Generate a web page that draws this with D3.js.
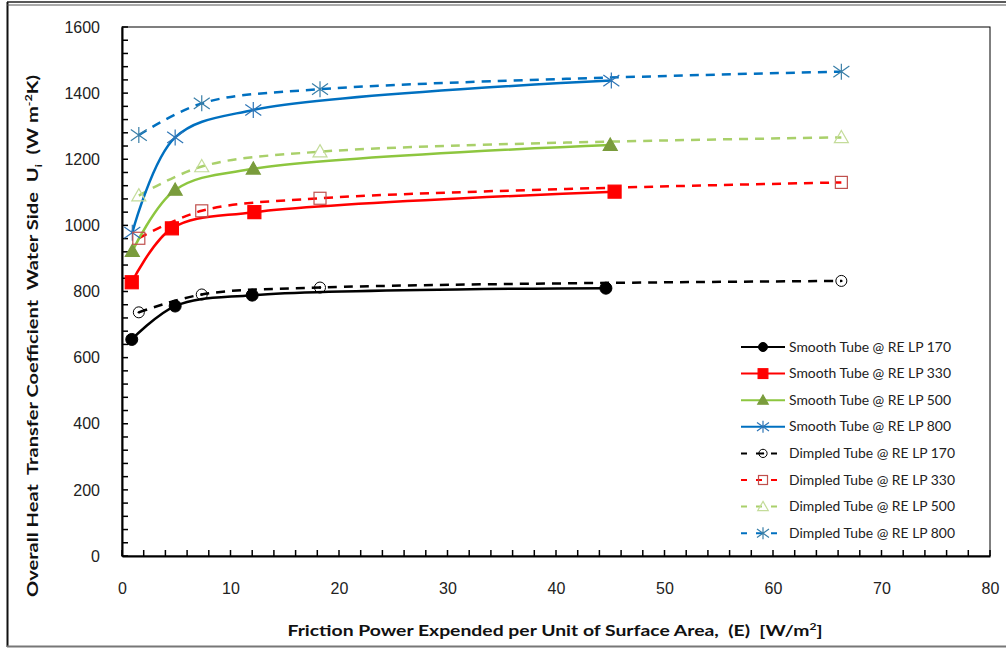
<!DOCTYPE html>
<html>
<head>
<meta charset="utf-8">
<script src="https://cdn.jsdelivr.net/npm/d3@7"></script>
<style>
  body { margin: 0; background: #fff; }
  svg { display: block; font-family: Lato, "Open Sans", sans-serif; }
  .tick text { fill: #222; }
</style>
</head>
<body>
<script>
// values
var xTicks = [0, 10, 20, 30, 40, 50, 60, 70, 80];
var yTicks = [0, 200, 400, 600, 800, 1000, 1200, 1400, 1600];

var smoothE170 = [0.9, 4.9, 12.0, 44.6];
var smoothU170 = [655, 756, 789, 810];
var smoothE330 = [0.9, 4.6, 12.2, 45.4];
var smoothU330 = [828, 991, 1040, 1102];
var smoothE500 = [0.95, 4.9, 12.1, 45.0];
var smoothU500 = [922, 1107, 1171, 1243];
var smoothE800 = [0.95, 4.9, 12.1, 45.1];
var smoothU800 = [978, 1266, 1349, 1438];

var dimpledE = [1.55, 7.35, 18.25, 66.3];
var dimpledU170 = [737, 791, 812, 832];
var dimpledU330 = [961, 1044, 1082, 1130];
var dimpledU500 = [1090, 1178, 1223, 1266];
var dimpledU800 = [1273, 1369, 1412, 1465];

var seriesNames = ["Smooth Tube @ RE LP 170", "Smooth Tube @ RE LP 330", "Smooth Tube @ RE LP 500", "Smooth Tube @ RE LP 800",
                   "Dimpled Tube @ RE LP 170", "Dimpled Tube @ RE LP 330", "Dimpled Tube @ RE LP 500", "Dimpled Tube @ RE LP 800"];

function zip(xs, ys) {
  return xs.map(function(x, i) { return {x: x, y: ys[i]}; });
}

// series table (styles kept here, values come from the arrays above)
var series = [
  {name: seriesNames[0], pts: zip(smoothE170, smoothU170), color: "#000000", mark: "circle", fill: "#000000", mcol: "#000000", dash: null},
  {name: seriesNames[1], pts: zip(smoothE330, smoothU330), color: "#ff0000", mark: "square", fill: "#ff0000", mcol: "#ff0000", dash: null},
  {name: seriesNames[2], pts: zip(smoothE500, smoothU500), color: "#8dc63f", mark: "triangle", fill: "#7a9c3c", mcol: "#7a9c3c", dash: null},
  {name: seriesNames[3], pts: zip(smoothE800, smoothU800), color: "#0070c0", mark: "star", fill: "none", mcol: "#2e75b6", dash: null},
  {name: seriesNames[4], pts: zip(dimpledE, dimpledU170), color: "#000000", mark: "circle", fill: "none", mcol: "#000000", dash: "9,7"},
  {name: seriesNames[5], pts: zip(dimpledE, dimpledU330), color: "#ff0000", mark: "square", fill: "none", mcol: "#c0504d", dash: "9,7"},
  {name: seriesNames[6], pts: zip(dimpledE, dimpledU500), color: "#a9d06a", mark: "triangle", fill: "none", mcol: "#c4dc9a", dash: "9,7"},
  {name: seriesNames[7], pts: zip(dimpledE, dimpledU800), color: "#0070c0", mark: "star", fill: "none", mcol: "#3a7fa8", dash: "9,7"}
];

var width = 1006, height = 649;
var margin = {top: 27, right: 16, bottom: 93, left: 122};

var svg = d3.select("body").append("svg")
    .attr("width", width)
    .attr("height", height);

// outer frame of the picture
svg.append("line").attr("x1", 7.5).attr("x2", 7.5).attr("y1", 2).attr("y2", 647)
    .attr("stroke", "#111").attr("stroke-width", 2);
svg.append("line").attr("x1", 7).attr("x2", width).attr("y1", 2).attr("y2", 2)
    .attr("stroke", "#222").attr("stroke-width", 1.5);
svg.append("line").attr("x1", 7).attr("x2", width).attr("y1", 5).attr("y2", 5)
    .attr("stroke", "#555").attr("stroke-width", 1);
svg.append("line").attr("x1", 7).attr("x2", width).attr("y1", 646.5).attr("y2", 646.5)
    .attr("stroke", "#777").attr("stroke-width", 2);

var x = d3.scaleLinear().domain([0, 80]).range([margin.left, width - margin.right]);
var y = d3.scaleLinear().domain([0, 1600]).range([height - margin.bottom, margin.top]);

// plot area box
svg.append("rect")
    .attr("x", x(0)).attr("y", y(1600))
    .attr("width", x(80) - x(0)).attr("height", y(0) - y(1600))
    .attr("fill", "none").attr("stroke", "#000").attr("stroke-width", 1);

// minor ticks (inward)
var yMinor = d3.range(0, 1601, 40);
var xMinor = d3.range(0, 80.1, 2);
svg.append("g").selectAll("line").data(yMinor).enter().append("line")
    .attr("x1", x(0)).attr("x2", x(0) + 6)
    .attr("y1", function(d) { return y(d); }).attr("y2", function(d) { return y(d); })
    .attr("stroke", "#000").attr("stroke-width", 1.5);
svg.append("g").selectAll("line").data(xMinor).enter().append("line")
    .attr("x1", function(d) { return x(d); }).attr("x2", function(d) { return x(d); })
    .attr("y1", y(0)).attr("y2", y(0) - 6)
    .attr("stroke", "#000").attr("stroke-width", 1.5);

// axes
var yAxis = svg.append("g")
    .attr("class", "yAxis")
    .attr("transform", "translate(" + x(0) + ",0)")
    .call(d3.axisLeft(y).tickValues(yTicks).tickFormat(d3.format("d")).tickSize(0).tickPadding(22));
yAxis.select(".domain").attr("stroke", "#000").attr("stroke-width", 2);
yAxis.selectAll("text").style("font-size", "16px");

var xAxis = svg.append("g")
    .attr("class", "xAxis")
    .attr("transform", "translate(0," + y(0) + ")")
    .call(d3.axisBottom(x).tickValues(xTicks).tickSize(0).tickPadding(27));
xAxis.select(".domain").attr("stroke", "#000").attr("stroke-width", 2);
xAxis.selectAll("text").style("font-size", "16px");

// axis titles
var xTitle = svg.append("text")
    .attr("x", 555).attr("y", 636)
    .attr("text-anchor", "middle")
    .attr("textLength", 535).attr("lengthAdjust", "spacingAndGlyphs")
    .style("font-size", "16px").style("font-weight", "bold")
    .style("white-space", "pre").attr("fill", "#111");
xTitle.append("tspan").text("Friction Power Expended per Unit of Surface Area,  (E)  [W/m");
xTitle.append("tspan").attr("dy", -6).style("font-size", "10px").text("2");
xTitle.append("tspan").attr("dy", 6).text("]");

var yTitle = svg.append("text")
    .attr("transform", "translate(38,336) rotate(-90)")
    .attr("text-anchor", "middle")
    .attr("textLength", 522).attr("lengthAdjust", "spacingAndGlyphs")
    .style("font-size", "16px").style("font-weight", "bold")
    .style("white-space", "pre").attr("fill", "#111");
yTitle.append("tspan").text("Overall Heat  Transfer Coefficient  Water Side  U");
yTitle.append("tspan").attr("dy", 4).style("font-size", "10px").text("i");
yTitle.append("tspan").attr("dy", -4).text("  (W m");
yTitle.append("tspan").attr("dy", -6).style("font-size", "10px").text("-2");
yTitle.append("tspan").attr("dy", 6).text("K)");

// lines
var line = d3.line()
    .x(function(d) { return x(d.x); })
    .y(function(d) { return y(d.y); })
    .curve(d3.curveCatmullRom.alpha(0.5));

svg.append("g").selectAll("path")
    .data(series.slice().reverse())
    .enter().append("path")
    .attr("d", function(d) { return line(d.pts); })
    .attr("fill", "none")
    .attr("stroke", function(d) { return d.color; })
    .attr("stroke-width", 2.5)
    .attr("stroke-dasharray", function(d) { return d.dash; });

// marker drawing, k scales the size
function drawMarker(g, s, cx, cy, k) {
  if (s.mark == "circle") {
    g.append("circle").attr("cx", cx).attr("cy", cy).attr("r", (s.fill == "none" ? 5.5 : 6) * k)
     .attr("fill", s.fill == "none" ? "#fff" : s.fill)
     .attr("fill-opacity", s.fill == "none" ? 0 : 1)
     .attr("stroke", s.mcol).attr("stroke-width", 1);
    if (s.fill == "none") {
      g.append("circle").attr("cx", cx).attr("cy", cy).attr("r", 1.2).attr("fill", s.mcol);
    }
  } else if (s.mark == "square") {
    var h = (s.fill == "none" ? 6 : 6.5) * k;
    g.append("rect").attr("x", cx - h).attr("y", cy - h).attr("width", 2 * h).attr("height", 2 * h)
     .attr("fill", s.fill == "none" ? "#fff" : s.fill)
     .attr("fill-opacity", s.fill == "none" ? 0 : 1)
     .attr("stroke", s.mcol).attr("stroke-width", 1.2);
  } else if (s.mark == "triangle") {
    var r = 7 * k;
    g.append("path")
     .attr("d", "M" + cx + "," + (cy - r) + "L" + (cx + r) + "," + (cy + r * 0.75) + "L" + (cx - r) + "," + (cy + r * 0.75) + "Z")
     .attr("fill", s.fill == "none" ? "#fff" : s.fill)
     .attr("fill-opacity", s.fill == "none" ? 0 : 1)
     .attr("stroke", s.mcol).attr("stroke-width", 1.2);
  } else if (s.mark == "star") {
    var a = 8 * k;
    g.append("path")
     .attr("d", "M" + (cx - a) + "," + (cy - a * 0.7) + "L" + (cx + a) + "," + (cy + a * 0.7) +
                "M" + (cx - a) + "," + (cy + a * 0.7) + "L" + (cx + a) + "," + (cy - a * 0.7) +
                "M" + cx + "," + (cy - a) + "L" + cx + "," + (cy + a))
     .attr("stroke", s.mcol).attr("stroke-width", 1.2).attr("fill", "none");
  }
}

series.forEach(function(s) {
  var g = svg.append("g").attr("class", "markers");
  s.pts.forEach(function(p) {
    drawMarker(g, s, x(p.x), y(p.y), 1);
  });
});

// legend
var legend = svg.append("g").attr("class", "legend");
series.forEach(function(s, i) {
  var ly = 347 + i * 26.6;
  legend.append("line")
      .attr("x1", 741).attr("x2", 785).attr("y1", ly).attr("y2", ly)
      .attr("stroke", s.color).attr("stroke-width", 2)
      .attr("stroke-dasharray", s.dash ? "6,9" : null);
  drawMarker(legend, s, 763, ly, 0.75);
  legend.append("text")
      .attr("x", 789).attr("y", ly + 4.5)
      .attr("textLength", i < 4 ? 162 : 166).attr("lengthAdjust", "spacingAndGlyphs")
      .style("font-size", "13px").attr("fill", "#222")
      .text(s.name);
});
</script>
</body>
</html>
